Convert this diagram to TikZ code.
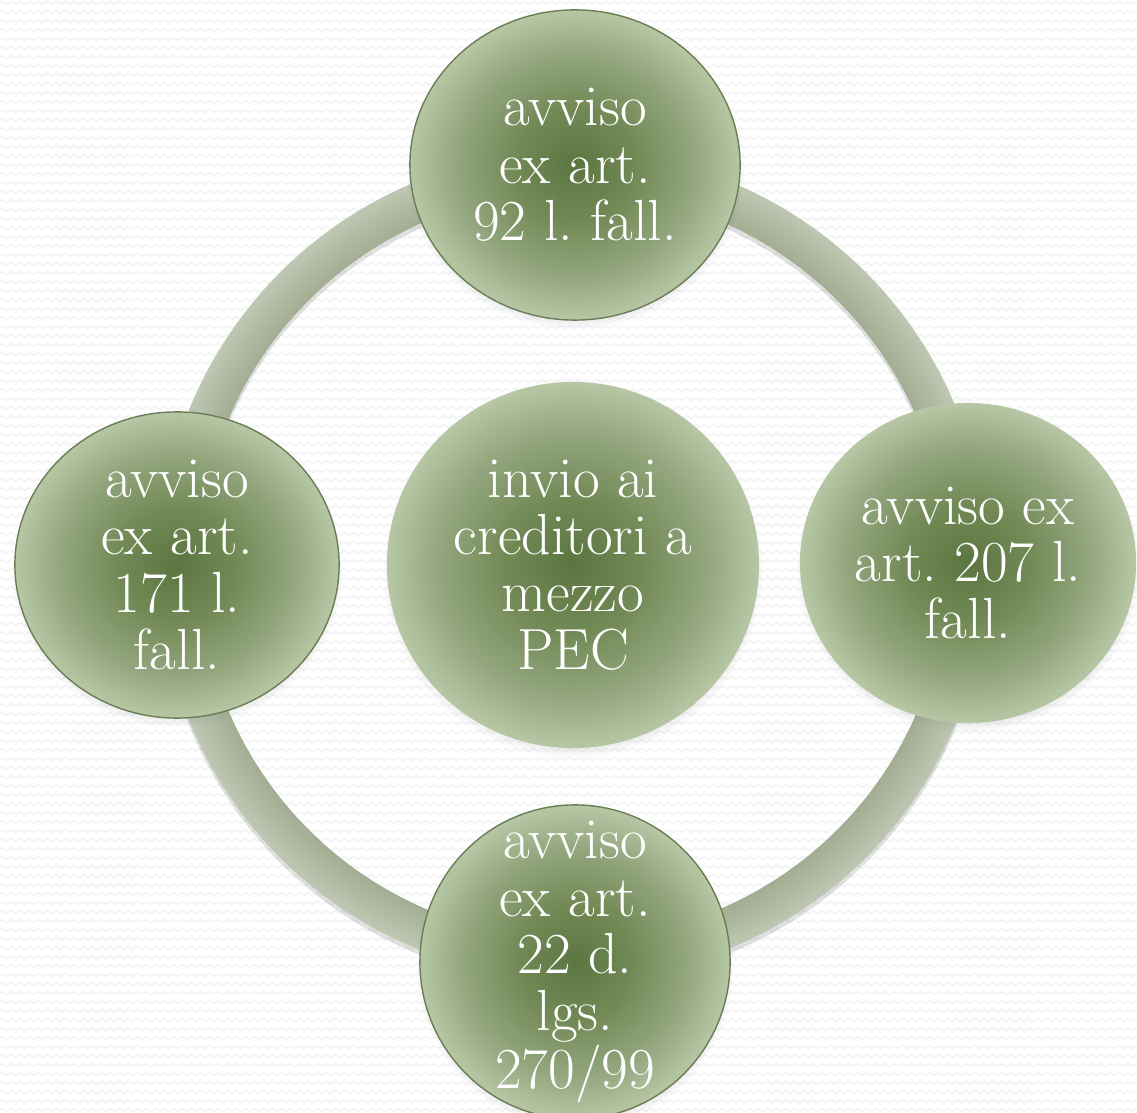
\documentclass[tikz,border=0pt]{standalone}
\usepackage{fontspec}
\usetikzlibrary{shapes.geometric,shadows,decorations.pathmorphing}
\frenchspacing

\definecolor{leafdark}{HTML}{5B7541}
\definecolor{leafmid}{HTML}{718955}
\definecolor{leafsoft}{HTML}{93A67E}
\definecolor{leaflight}{HTML}{B7C7A5}
\definecolor{leafedge}{HTML}{6A7E56}
\definecolor{ringin}{HTML}{A2AD93}
\definecolor{ringout}{HTML}{BEC7B2}
\definecolor{zigzag}{HTML}{F4F4F4}

% fill of the circles: dark middle, light rim
\pgfdeclareradialshading{leafshade}{\pgfpoint{0bp}{0bp}}{color(0bp)=(leafdark); color(9bp)=(leafmid); color(18bp)=(leafsoft); color(25bp)=(leaflight); color(50bp)=(leaflight)}
% ring band: darker inside, lighter at the outer rim
\pgfdeclareradialshading{ringshade}{\pgfpoint{0bp}{0bp}}{color(0bp)=(ringin); color(22.6bp)=(ringin); color(25bp)=(ringout); color(50bp)=(ringout)}

\tikzset{
  leaf/.style={ellipse, shading=leafshade, inner sep=0pt,
    circular drop shadow={shadow scale=1.02, shadow xshift=0pt, shadow yshift=-1.6pt, opacity=0.35}},
  rim/.style={draw=leafedge, line width=0.4pt},
  leaftext/.style={text=white, align=center, inner sep=0pt,
    font=\fontsize{16.5}{16.3}\selectfont},
}

\begin{document}
\begin{tikzpicture}[x=0.01cm, y=0.01cm]
  \useasboundingbox (0,0) rectangle (1137,1112);
  \clip (0,0) rectangle (1137,1112);
  % background
  \fill[white] (0,0) rectangle (1137,1112);
  \foreach \r in {2,11,...,1112}
    \draw[zigzag, line width=0.5pt, decorate,
      decoration={zigzag, segment length=0.09cm, amplitude=0.015cm}] (0,\r) -- (1137,\r);

  \node (pec) [leaf, minimum width=3.72cm, minimum height=3.66cm,
    label={[leaftext, name=pec text]center:invio ai\\creditori a\\mezzo\\PEC}] at (573,547) {};

  % ring behind the circles
  \fill[black, opacity=0.12, even odd rule]
    ([yshift=-0.05cm]pec.center) circle (414) ([yshift=-0.05cm]pec.center) circle (374);
  \shade[shading=ringshade, even odd rule]
    (pec.center) circle (414) (pec.center) circle (374);

  \node (art92) [leaf, rim, minimum width=3.30cm, minimum height=3.10cm,
    label={[leaftext, name=art92 text]center:avviso\\ex art.\\92 l. fall.}] at (575,947) {};
  \node (art207) [leaf, minimum width=3.36cm, minimum height=3.20cm,
    label={[leaftext, name=art207 text]center:avviso ex\\art. 207 l.\\fall.}] at (968,549) {};
  \node (art22) [leaf, rim, minimum width=3.10cm, minimum height=3.14cm,
    label={[leaftext, name=art22 text]center:avviso\\ex art.\\22 d.\\lgs.\\270/99}] at (575,150) {};
  \node (art171) [leaf, rim, minimum width=3.24cm, minimum height=3.06cm,
    label={[leaftext, name=art171 text]center:avviso\\ex art.\\171 l.\\fall.}] at (177,547) {};
\end{tikzpicture}
\end{document}
